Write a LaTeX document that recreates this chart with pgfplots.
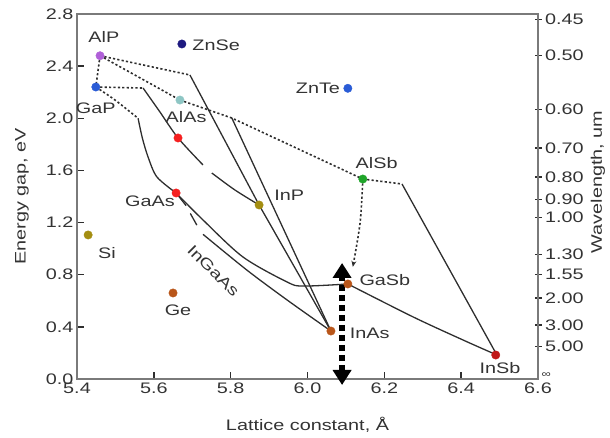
\documentclass[border=0pt]{standalone}
\usepackage{fontspec}
\setmainfont{Liberation Sans}[FakeStretch=1.3]
\usepackage{pgfplots}
\pgfplotsset{compat=1.18}
\usetikzlibrary{arrows.meta}

\definecolor{cAlP}{HTML}{B060D8}
\definecolor{cGaP}{HTML}{2A5CD6}
\definecolor{cZnSe}{HTML}{1E1A80}
\definecolor{cAlAs}{HTML}{8EC6C4}
\definecolor{cAlSb}{HTML}{1FA52A}
\definecolor{cRed}{HTML}{F52020}
\definecolor{cOlive}{HTML}{A48E12}
\definecolor{cBrown}{HTML}{B9561A}
\definecolor{cInSb}{HTML}{C01818}
\definecolor{lineC}{HTML}{2E2E2E}
\definecolor{axC}{HTML}{7A7A7A}
\definecolor{txt}{HTML}{333333}

\pgfplotsset{
  dotl/.style={lineC, line width=1.6bp, dash pattern=on 2.2bp off 2.2bp, no marks},
  soll/.style={lineC, line width=1.3bp, no marks},
  pt/.style={only marks, mark=*, mark size=4.2bp, color=#1},
}
\tikzset{lbl/.style={font=\fontsize{15.3}{17}\selectfont, text=txt, inner sep=0pt}}

\begin{document}
\begin{tikzpicture}
\path[use as bounding box] (-77bp,-59bp) rectangle (533bp,379bp);
\begin{axis}[
  scale only axis, width=461bp, height=365bp,
  xmin=5.4, xmax=6.6, ymin=0, ymax=2.8,
  xtick={5.4,5.6,5.8,6.0,6.2,6.4,6.6},
  xticklabels={5.4,5.6,5.8,6.0,6.2,6.4,6.6},
  ytick={0,0.4,0.8,1.2,1.6,2.0,2.4,2.8},
  yticklabels={0.0,0.4,0.8,1.2,1.6,2.0,2.4,2.8},
  tick pos=left, tick align=inside, major tick length=7bp,
  axis line style={axC, line width=1.7bp},
  tick style={lineC, line width=1.4bp},
  every tick label/.append style={font=\fontsize{15.3}{17}\selectfont, text=txt},
  clip=false,
]
% dotted (indirect) branches
\addplot[dotl] coordinates {(5.46,2.48) (5.449,2.24)};
\addplot[dotl] coordinates {(5.46,2.48) (5.694,2.332)};
\addplot[dotl] coordinates {(5.46,2.48) (5.668,2.14)};
\addplot[dotl] coordinates {(5.668,2.14) (5.803,2.002) (6.144,1.534)};
\addplot[dotl] coordinates {(6.144,1.534) (6.246,1.496)};
\addplot[dotl] coordinates {(5.449,2.24) (5.572,2.232)};
\addplot[dotl, smooth] coordinates {(5.449,2.24) (5.499,2.14) (5.559,2.0)};
\addplot[dotl, smooth, -{Stealth[length=6bp,width=5bp]}] coordinates {(6.144,1.534) (6.137,1.2) (6.118,0.86)};

% solid branches
\addplot[soll] coordinates {(5.694,2.332) (5.874,1.335)};
\addplot[soll] coordinates {(5.803,2.002) (6.061,0.368)};
\addplot[soll] coordinates {(6.246,1.496) (6.493,0.184)};
\addplot[soll] coordinates {(5.874,1.335) (6.061,0.368)};
\addplot[soll, smooth] coordinates {(5.572,2.232) (5.616,2.048) (5.663,1.849) (5.728,1.642)};
\addplot[soll, smooth] coordinates {(5.751,1.580) (5.811,1.450) (5.874,1.335)};
\addplot[soll, smooth] coordinates {(5.559,2.0) (5.57,1.85) (5.585,1.703) (5.608,1.55) (5.658,1.427)};
\addplot[soll, smooth] coordinates {(5.658,1.427) (5.728,1.22) (5.832,0.936) (5.947,0.744) (5.988,0.713) (6.105,0.729)};
\addplot[soll] coordinates {(5.658,1.427) (5.684,1.33)};
\addplot[soll] coordinates {(5.695,1.27) (5.712,1.18)};
\addplot[soll, smooth] coordinates {(5.728,1.11) (5.842,0.836) (5.947,0.606) (6.061,0.368)};
\addplot[soll, smooth] coordinates {(6.105,0.729) (6.275,0.476) (6.405,0.299) (6.493,0.184)};

% thick dotted double arrow
\addplot[black, line width=5.5bp, dash pattern=on 5.5bp off 4.5bp,
  {Triangle[width=18bp,length=15bp]}-{Triangle[width=18bp,length=15bp]}]
  coordinates {(6.09,-0.046) (6.09,0.89)};

% materials
\addplot[pt=cAlP] coordinates {(5.46,2.48)};
\addplot[pt=cGaP] coordinates {(5.449,2.24)};
\addplot[pt=cZnSe] coordinates {(5.673,2.57)};
\addplot[pt=cAlAs] coordinates {(5.668,2.14)};
\addplot[pt=cGaP] coordinates {(6.105,2.23)};
\addplot[pt=cAlSb] coordinates {(6.144,1.534)};
\addplot[pt=cOlive] coordinates {(5.874,1.335)};
\addplot[pt=cRed] coordinates {(5.663,1.849)};
\addplot[pt=cRed] coordinates {(5.658,1.427)};
\addplot[pt=cOlive] coordinates {(5.429,1.105)};
\addplot[pt=cBrown] coordinates {(5.65,0.66)};
\addplot[pt=cBrown] coordinates {(6.105,0.729)};
\addplot[pt=cBrown] coordinates {(6.061,0.368)};
\addplot[pt=cInSb] coordinates {(6.49,0.184)};

\node[lbl] at (axis cs:5.47,2.62) {AlP};
\node[lbl, anchor=west] at (axis cs:5.70,2.56) {ZnSe};
\node[lbl] at (axis cs:5.449,2.08) {GaP};
\node[lbl] at (axis cs:5.684,2.01) {AlAs};
\node[lbl, anchor=east] at (axis cs:6.085,2.23) {ZnTe};
\node[lbl] at (axis cs:6.18,1.66) {AlSb};
\node[lbl, anchor=west] at (axis cs:5.913,1.41) {InP};
\node[lbl] at (axis cs:5.59,1.36) {GaAs};
\node[lbl, rotate=-45] at (axis cs:5.755,0.83) {InGaAs};
\node[lbl] at (axis cs:5.478,0.97) {Si};
\node[lbl] at (axis cs:5.663,0.53) {Ge};
\node[lbl, anchor=west] at (axis cs:6.135,0.76) {GaSb};
\node[lbl, anchor=west] at (axis cs:6.11,0.35) {InAs};
\node[lbl] at (axis cs:6.501,0.084) {InSb};

\node[lbl, rotate=90] at ([xshift=-55bp]rel axis cs:0,0.5) {Energy gap, eV};
\node[lbl] at ([yshift=-46bp]rel axis cs:0.5,0) {Lattice constant, Å};
\node[lbl, rotate=90] at ([xshift=60bp]rel axis cs:1,0.54) {Wavelength, um};
\end{axis}

\begin{axis}[
  scale only axis, width=461bp, height=365bp,
  xmin=5.4, xmax=6.6, ymin=0, ymax=2.8,
  axis x line=none, axis y line*=right,
  ytick={2.756,2.48,2.067,1.771,1.55,1.378,1.24,0.954,0.8,0.62,0.413,0.248},
  yticklabels={0.45,0.50,0.60,0.70,0.80,0.90,1.00,1.30,1.55,2.00,3.00,5.00},
  extra y ticks={0.03},
  extra y tick labels={∞},
  extra y tick style={major tick length=0pt, tick label style={font=\fontsize{10}{12}\selectfont}},
  tick align=center, major tick length=7bp,
  axis line style={axC, line width=1.7bp},
  tick style={lineC, line width=1.4bp},
  every tick label/.append style={font=\fontsize{15.3}{17}\selectfont, text=txt},
]
\end{axis}
\end{tikzpicture}
\end{document}
